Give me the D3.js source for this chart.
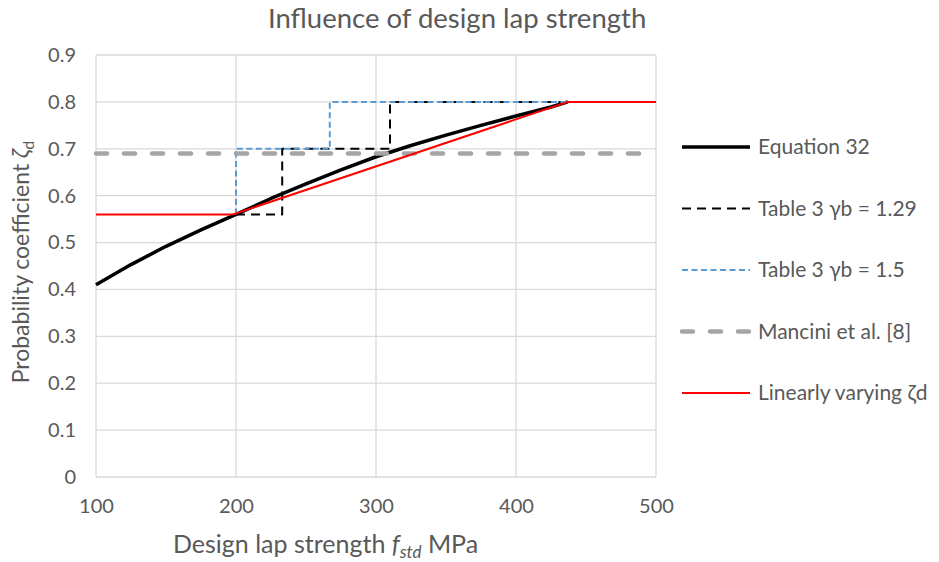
<!DOCTYPE html>
<html>
<head>
<meta charset="utf-8">
<script src="https://cdn.jsdelivr.net/npm/d3@7"></script>
<style>
	body { margin: 0; background: #fff; }
	text { font-family: Lato, "Open Sans", sans-serif; fill: #595959; }
</style>
</head>
<body>
<div class="container"></div>
<script>
// chart data
const xTicks = [100, 200, 300, 400, 500]
const yTicks = [0, 0.1, 0.2, 0.3, 0.4, 0.5, 0.6, 0.7, 0.8, 0.9]

const eq32X = [100, 125, 150, 175, 200, 225, 250, 275, 300, 325, 350, 375, 400, 425, 437]
const eq32Y = [0.41, 0.453, 0.492, 0.527, 0.56, 0.594, 0.625, 0.655, 0.683, 0.707, 0.729, 0.75, 0.77, 0.789, 0.80]

const t129X = [200, 233, 233, 310, 310, 437]
const t129Y = [0.56, 0.56, 0.70, 0.70, 0.80, 0.80]

const t15X = [200, 200, 267, 267, 437]
const t15Y = [0.56, 0.70, 0.70, 0.80, 0.80]

const manciniX = [100, 500]
const manciniY = [0.69, 0.69]

const linX = [100, 198, 437, 500]
const linY = [0.56, 0.56, 0.80, 0.80]

const seriesNames = ["Equation 32", "Table 3 γb = 1.29", "Table 3 γb = 1.5", "Mancini et al. [8]", "Linearly varying ζd"]

var series = [
	{name: seriesNames[0], xs: eq32X, ys: eq32Y, color: '#000000', width: 3.5, dash: null, cap: 'butt'},
	{name: seriesNames[1], xs: t129X, ys: t129Y, color: '#000000', width: 2, dash: '9,6', cap: 'butt'},
	{name: seriesNames[2], xs: t15X, ys: t15Y, color: '#5B9BD5', width: 2, dash: '6,3.5', cap: 'butt'},
	{name: seriesNames[3], xs: manciniX, ys: manciniY, color: '#A5A5A5', width: 4.5, dash: '11,17', cap: 'round'},
	{name: seriesNames[4], xs: linX, ys: linY, color: '#FF0000', width: 2, dash: null, cap: 'butt'}
]

var svg = d3.select('.container')
.append('svg')
.attr('width', 939)
.attr('height', 562)

var x = d3.scaleLinear().domain([100, 500]).range([96, 656])
var y = d3.scaleLinear().domain([0, 0.9]).range([477, 55])

// gridlines
svg.append('g')
.selectAll('line')
.data(xTicks)
.join('line')
.attr('x1', d => x(d)).attr('x2', d => x(d))
.attr('y1', y(0)).attr('y2', y(0.9))
.attr('stroke', '#D9D9D9').attr('stroke-width', 1.3)

svg.append('g')
.selectAll('line')
.data(yTicks)
.join('line')
.attr('x1', x(100)).attr('x2', x(500))
.attr('y1', d => y(d)).attr('y2', d => y(d))
.attr('stroke', '#D9D9D9').attr('stroke-width', 1.3)

// axes (labels only)
var xAxis = svg.append('g')
.attr('transform', 'translate(0,' + y(0) + ')')
.call(d3.axisBottom(x).tickValues(xTicks).tickSize(0).tickPadding(22).tickFormat(d3.format('d')))
xAxis.select('.domain').remove()
xAxis.selectAll('text').style('font-size', '20px').attr('fill', '#595959')

var yAxis = svg.append('g')
.attr('transform', 'translate(' + x(100) + ',0)')
.call(d3.axisLeft(y).tickValues(yTicks).tickSize(0).tickPadding(20).tickFormat(d => d === 0 ? '0' : d3.format('.1f')(d)))
yAxis.select('.domain').remove()
yAxis.selectAll('text').style('font-size', '20px').attr('fill', '#595959')

// series lines
var line = d3.line()
.x(d => x(d[0]))
.y(d => y(d[1]))

series.forEach(s => {
	var pts = s.xs.map((v, i) => [v, s.ys[i]])
	svg.append('path')
	.attr('d', line(pts))
	.attr('fill', 'none')
	.attr('stroke', s.color)
	.attr('stroke-width', s.width)
	.attr('stroke-dasharray', s.dash)
	.attr('stroke-linecap', s.cap)
	.attr('stroke-linejoin', 'round')
})

// title
svg.append('text')
.attr('x', 268).attr('y', 28)
.style('font-size', '27.5px')
.text('Influence of design lap strength')

// x axis title
var xt = svg.append('text')
.attr('x', 173).attr('y', 553)
.style('font-size', '25px')
xt.append('tspan').text('Design lap strength ')
xt.append('tspan').style('font-style', 'italic').text('f')
xt.append('tspan').style('font-style', 'italic').style('font-size', '17px').attr('dy', 5).text('std')
xt.append('tspan').attr('dy', -5).text(' MPa')

// y axis title
var yt = svg.append('text')
.attr('transform', 'translate(29,' + 262 + ') rotate(-90)')
.attr('text-anchor', 'middle')
.style('font-size', '23px')
yt.append('tspan').text('Probability coefficient ')
yt.append('tspan').style('font-style', 'italic').text('ζ')
yt.append('tspan').style('font-size', '16px').attr('dy', 5).text('d')

// legend
var legend = svg.append('g')
series.forEach((s, i) => {
	var ly = 147 + i * 61.5
	legend.append('line')
	.attr('x1', 682).attr('x2', 750)
	.attr('y1', ly).attr('y2', ly)
	.attr('stroke', s.color)
	.attr('stroke-width', s.width)
	.attr('stroke-dasharray', s.dash)
	.attr('stroke-linecap', s.cap)
	legend.append('text')
	.attr('x', 758).attr('y', ly + 7)
	.style('font-size', '21px')
	.text(s.name)
})
</script>
</body>
</html>
